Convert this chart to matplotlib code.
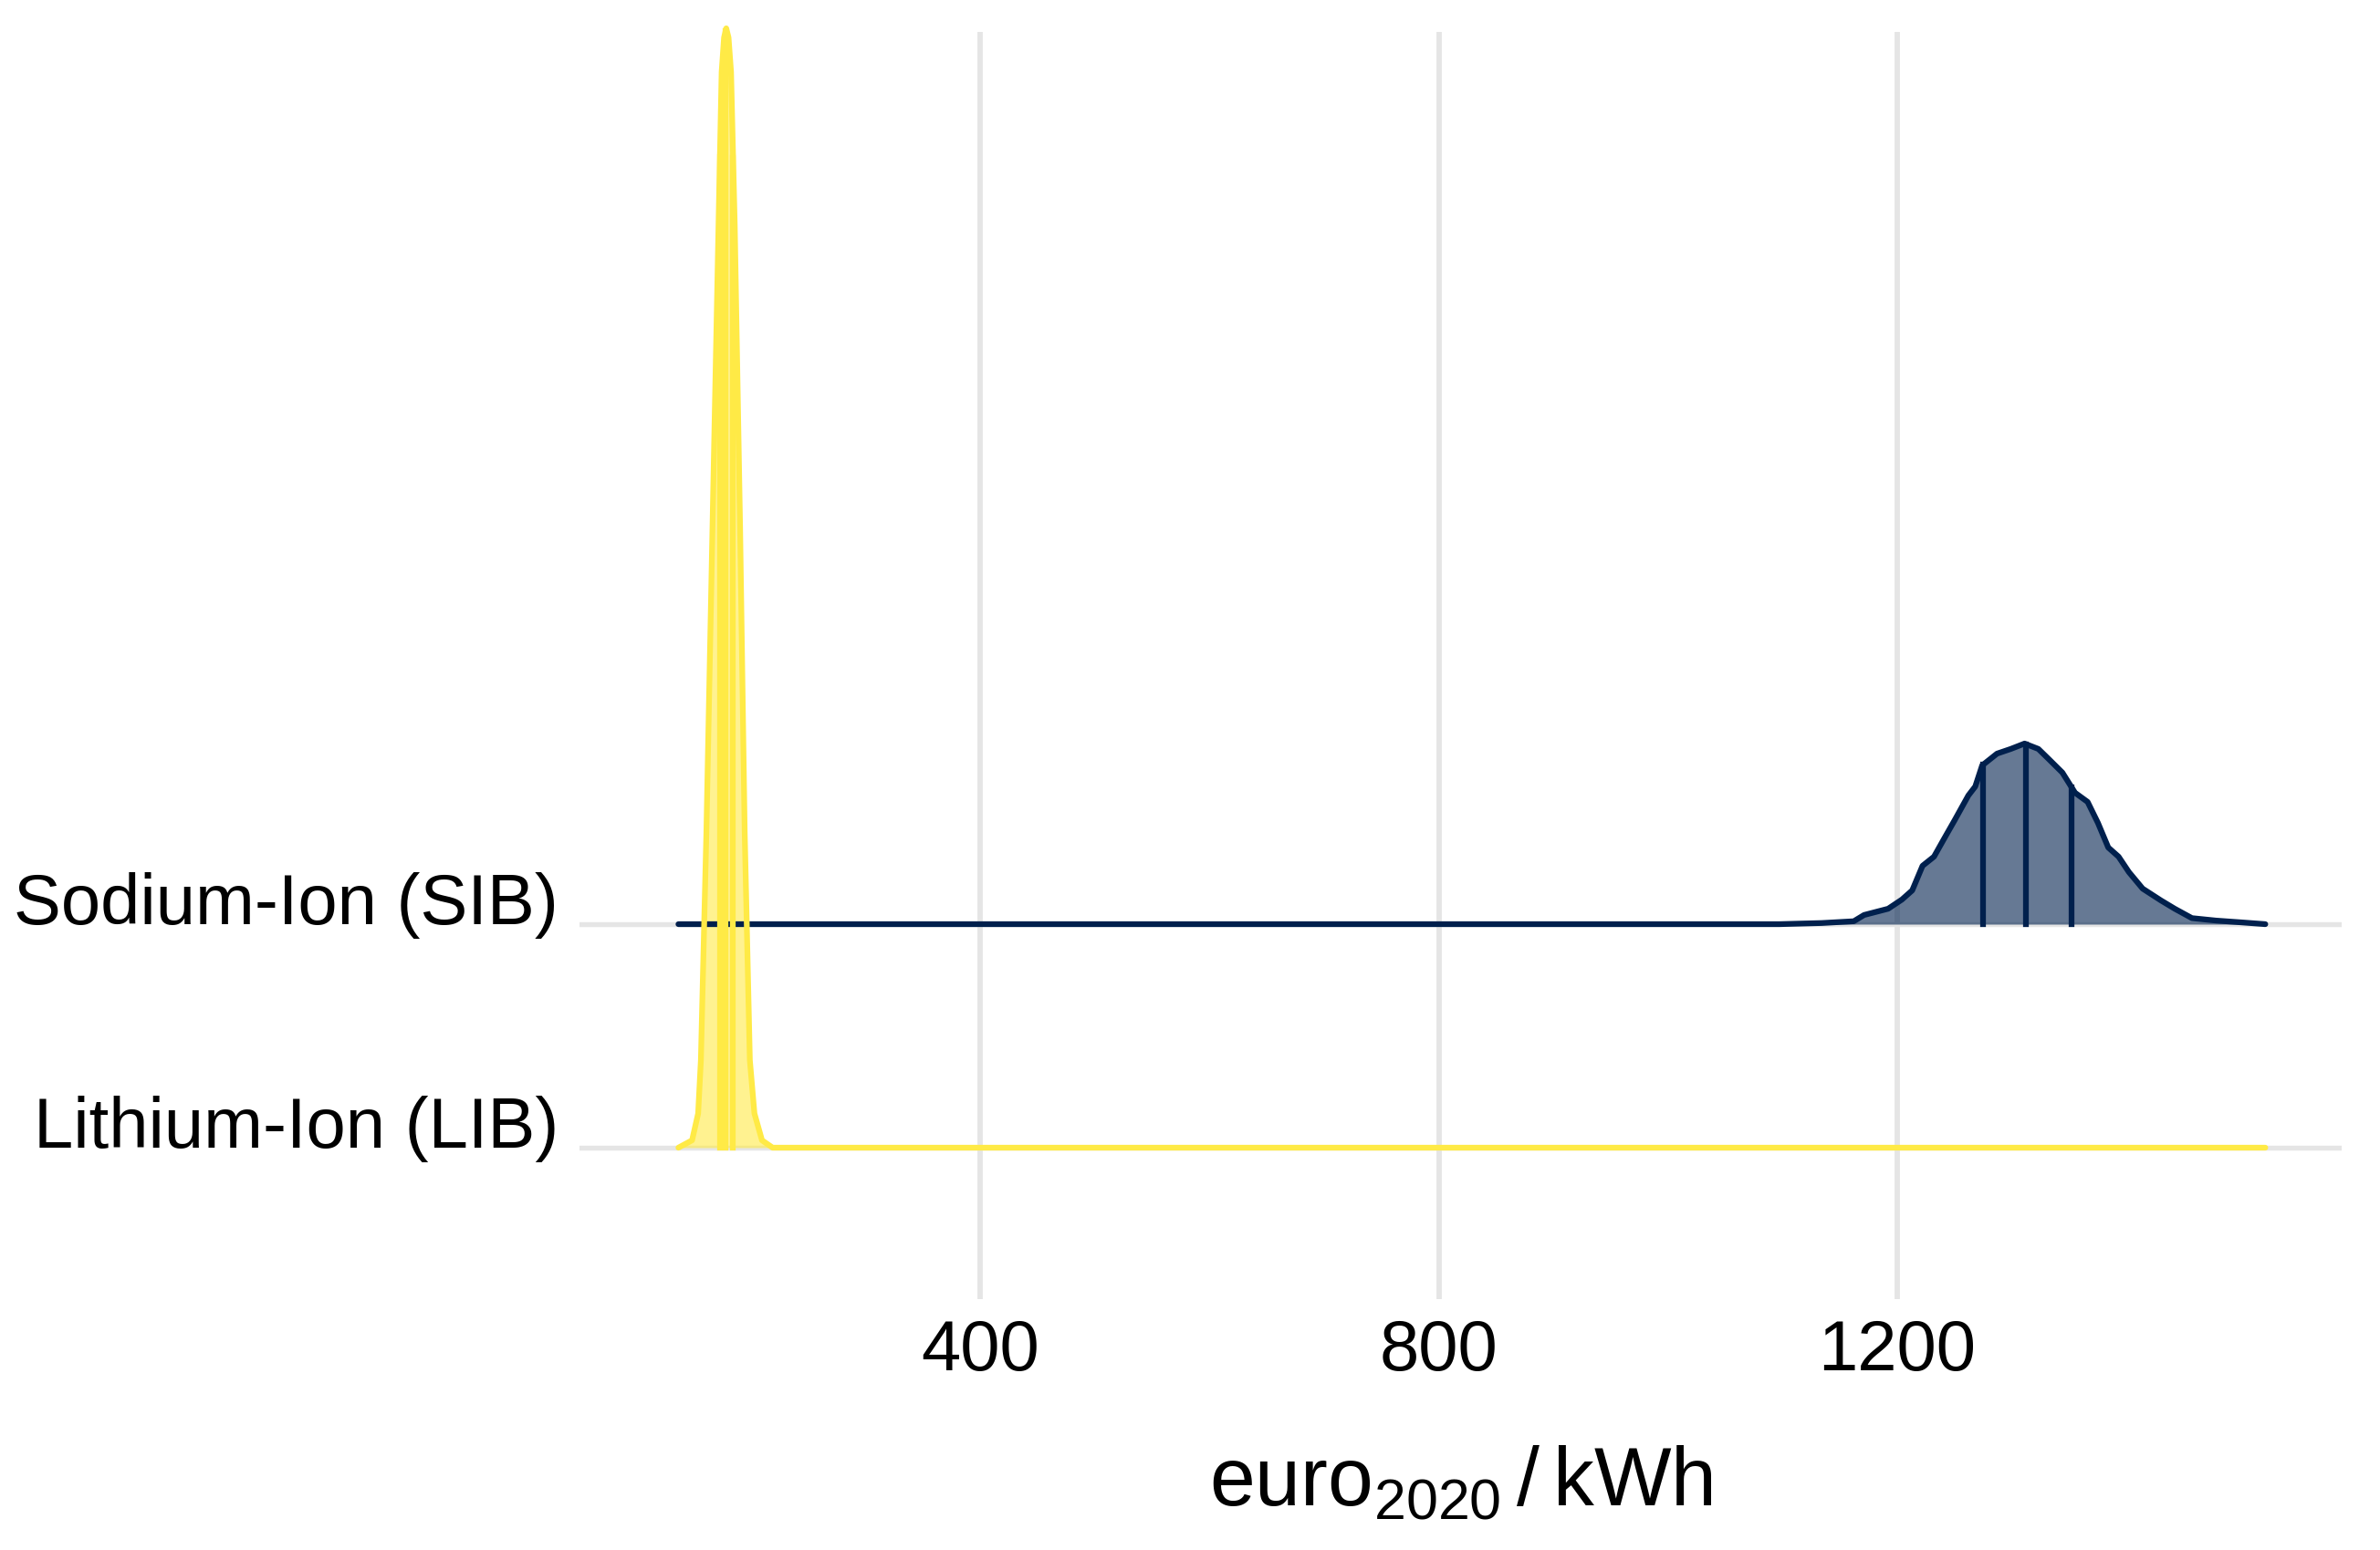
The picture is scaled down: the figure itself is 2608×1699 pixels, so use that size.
import numpy as np
import matplotlib as mpl
import matplotlib.pyplot as plt

mpl.rcParams["font.family"] = ["Liberation Sans", "DejaVu Sans"]
mpl.rcParams["axes.spines.right"] = False
mpl.rcParams["axes.spines.top"] = False
mpl.rcParams["axes.spines.left"] = False
mpl.rcParams["axes.spines.bottom"] = False

# categories (bottom to top)
categories = ["Lithium-Ion (LIB)", "Sodium-Ion (SIB)"]
colors = ["#FFEA46", "#00204D"]

# density curves (x in euro2020/kWh, height in row units)
li_x = [136.8, 148.7, 154.0, 156.4, 161.2, 166.5, 171.8, 174.5, 176.6, 178.5,
        180.5, 182.7, 185.9, 190.6, 194.6, 199.1, 203.1, 209.7, 219.0, 1521.0]
li_h = [0.0, 0.033, 0.153, 0.392, 1.412, 2.771, 4.131, 4.812, 4.967, 5.008,
        4.967, 4.812, 4.131, 2.771, 1.412, 0.392, 0.153, 0.033, 0.0, 0.0]
li_quant = [173.0, 178.0, 184.5]

na_x = [136.8, 1097, 1134, 1162, 1171, 1192, 1204, 1213, 1222, 1232, 1241, 1250,
        1262, 1268, 1274, 1287, 1299, 1311, 1323, 1332, 1344, 1355, 1366, 1375,
        1384, 1393, 1402, 1414, 1430, 1442, 1457, 1478, 1500, 1521]
na_h = [0.0, 0.0, 0.005, 0.013, 0.041, 0.069, 0.110, 0.151, 0.261, 0.302, 0.384,
        0.465, 0.576, 0.616, 0.710, 0.763, 0.784, 0.808, 0.784, 0.739, 0.678,
        0.588, 0.547, 0.453, 0.343, 0.302, 0.233, 0.159, 0.106, 0.069, 0.027,
        0.016, 0.008, 0.0]
na_quant = [1275, 1312, 1352]

xticks = [400, 800, 1200]

fig = plt.figure(figsize=(2608 / 300, 1699 / 300), dpi=300)
ax = fig.add_axes([635 / 2608, 1 - 1424 / 1699, 1931 / 2608, 1389 / 1699])

# GRID
for xt in xticks:
    ax.axvline(xt, color="#E5E5E5", lw=1.4, zorder=0)
for yy in (1, 2):
    ax.axhline(yy, color="#E5E5E5", lw=1.3, zorder=0)

lw = 1.5
ridges = [(2, na_x, na_h, na_quant, colors[1]), (1, li_x, li_h, li_quant, colors[0])]
for base, xs, hs, qs, col in ridges:
    xs = np.asarray(xs, float)
    ys = base + np.asarray(hs, float)
    ax.fill_between(xs, base, ys, color=col, alpha=0.6, lw=0, zorder=2)
    ax.plot(xs, ys, color=col, lw=lw, solid_capstyle="round",
            solid_joinstyle="round", zorder=3, clip_on=False)
    for q in qs:
        top = base + np.interp(q, xs, hs)
        ax.plot([q, q], [base, top], color=col, lw=lw, zorder=3, clip_on=False)

ax.set_xlim(50.5, 1587.6)
ax.set_ylim(1 - 166 / 245, 2 + 978 / 245)

ax.set_xticks(xticks)
ax.set_xticklabels([str(t) for t in xticks])
ax.set_yticks([1, 2])
ax.set_yticklabels(categories, va="baseline")
ax.tick_params(axis="both", length=0, labelsize=18.7, colors="black")
ax.tick_params(axis="x", pad=5)
ax.tick_params(axis="y", pad=5.5)

ax.set_xlabel(r"$\mathregular{euro}_{\mathregular{2020}}\,\mathregular{/}\,\mathregular{kWh}$",
              fontsize=21.5, labelpad=16)

fig.savefig("out.png", dpi=300, facecolor="white")
